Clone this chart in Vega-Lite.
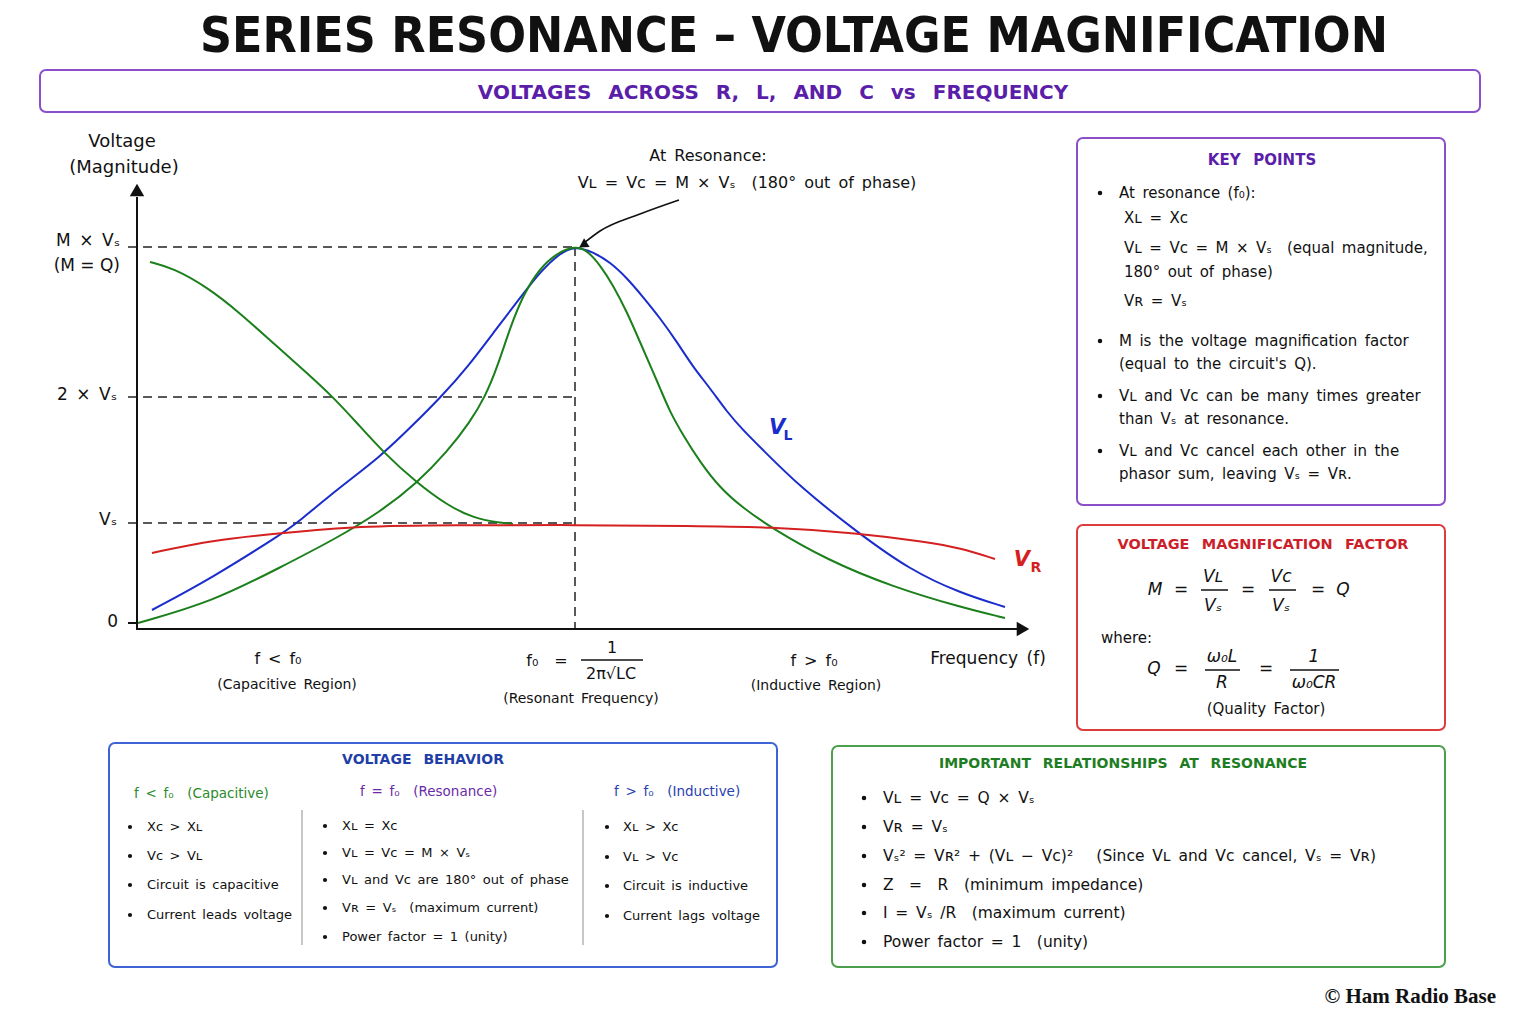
{
"$schema":"https://vega.github.io/schema/vega-lite/v6.json",
"width":1536,"height":1024,"autosize":{"type":"none"},"padding":0,"background":"white",
"config":{"view":{"stroke":null},"text":{"font":"DejaVu Sans","color":"#111111"}},
"resolve":{"scale":{"x":"independent","y":"independent","color":"independent"}},
"layer":[
{
"encoding":{
 "x":{"field":"x","type":"quantitative","scale":{"domain":[-0.31279,3.19406],"nice":false,"zero":false},"axis":null},
 "y":{"field":"y","type":"quantitative","scale":{"domain":[-4.01,6.23],"nice":false,"zero":false},"axis":null}
},
"layer":[
 {"data":{"values":[{"x":-0.0205,"x2":1,"y":3.76,"y2":3.76},{"x":-0.0205,"x2":1,"y":2.26,"y2":2.26},{"x":-0.0205,"x2":1,"y":1.0,"y2":1.0},{"x":1,"x2":1,"y":3.76,"y2":-0.06}]},
  "mark":{"type":"rule","color":"#222222","strokeWidth":1.5,"strokeDash":[9,6]},
  "encoding":{"x2":{"field":"x2"},"y2":{"field":"y2"}}},
 {"data":{"values":[
  {"s":"VL","x":0.0342,"y":0.13},{"s":"VL","x":0.1712,"y":0.45},{"s":"VL","x":0.3333,"y":0.90},{"s":"VL","x":0.3653,"y":1.0},{"s":"VL","x":0.4635,"y":1.36},{"s":"VL","x":0.5548,"y":1.66},{"s":"VL","x":0.6301,"y":1.98},{"s":"VL","x":0.6918,"y":2.25},{"s":"VL","x":0.7534,"y":2.55},{"s":"VL","x":0.8219,"y":2.95},{"s":"VL","x":0.8744,"y":3.25},{"s":"VL","x":0.9201,"y":3.51},{"s":"VL","x":0.9658,"y":3.70},{"s":"VL","x":1.0,"y":3.77},{"s":"VL","x":1.0411,"y":3.71},{"s":"VL","x":1.0799,"y":3.61},{"s":"VL","x":1.1187,"y":3.45},{"s":"VL","x":1.1553,"y":3.26},{"s":"VL","x":1.1941,"y":3.05},{"s":"VL","x":1.2329,"y":2.81},{"s":"VL","x":1.2694,"y":2.56},{"s":"VL","x":1.3082,"y":2.35},{"s":"VL","x":1.3470,"y":2.11},{"s":"VL","x":1.3836,"y":1.93},{"s":"VL","x":1.4224,"y":1.76},{"s":"VL","x":1.5137,"y":1.36},{"s":"VL","x":1.6438,"y":0.91},{"s":"VL","x":1.7648,"y":0.53},{"s":"VL","x":1.8790,"y":0.30},{"s":"VL","x":1.9817,"y":0.16},
  {"s":"VC","x":0.0297,"y":3.61},{"s":"VC","x":0.0822,"y":3.55},{"s":"VC","x":0.1598,"y":3.36},{"s":"VC","x":0.2352,"y":3.10},{"s":"VC","x":0.3105,"y":2.80},{"s":"VC","x":0.3881,"y":2.50},{"s":"VC","x":0.4475,"y":2.26},{"s":"VC","x":0.5023,"y":2.00},{"s":"VC","x":0.5616,"y":1.71},{"s":"VC","x":0.6393,"y":1.40},{"s":"VC","x":0.7078,"y":1.18},{"s":"VC","x":0.7671,"y":1.05},{"s":"VC","x":0.8288,"y":1.00},{"s":"VC","x":0.8584,"y":0.99},
  {"s":"VC2","x":0.0023,"y":0.0},{"s":"VC2","x":0.1712,"y":0.21},{"s":"VC2","x":0.3288,"y":0.56},{"s":"VC2","x":0.4566,"y":0.85},{"s":"VC2","x":0.5548,"y":1.11},{"s":"VC2","x":0.6393,"y":1.40},{"s":"VC2","x":0.7078,"y":1.71},{"s":"VC2","x":0.7603,"y":2.01},{"s":"VC2","x":0.7945,"y":2.26},{"s":"VC2","x":0.8219,"y":2.55},{"s":"VC2","x":0.8516,"y":2.95},{"s":"VC2","x":0.8813,"y":3.28},{"s":"VC2","x":0.9201,"y":3.55},{"s":"VC2","x":0.9589,"y":3.70},{"s":"VC2","x":1.0,"y":3.77},{"s":"VC2","x":1.0274,"y":3.73},{"s":"VC2","x":1.0571,"y":3.58},{"s":"VC2","x":1.0868,"y":3.38},{"s":"VC2","x":1.1187,"y":3.11},{"s":"VC2","x":1.1484,"y":2.81},{"s":"VC2","x":1.1781,"y":2.51},{"s":"VC2","x":1.1941,"y":2.35},{"s":"VC2","x":1.2169,"y":2.11},{"s":"VC2","x":1.2466,"y":1.88},{"s":"VC2","x":1.2854,"y":1.61},{"s":"VC2","x":1.3311,"y":1.35},{"s":"VC2","x":1.3836,"y":1.15},{"s":"VC2","x":1.4452,"y":0.96},{"s":"VC2","x":1.5753,"y":0.63},{"s":"VC2","x":1.7260,"y":0.36},{"s":"VC2","x":1.8790,"y":0.16},{"s":"VC2","x":1.9817,"y":0.05},
  {"s":"VR","x":0.0342,"y":0.70},{"s":"VR","x":0.1735,"y":0.83},{"s":"VR","x":0.3333,"y":0.90},{"s":"VR","x":0.5023,"y":0.97},{"s":"VR","x":0.7237,"y":0.98},{"s":"VR","x":1.0,"y":0.98},{"s":"VR","x":1.2694,"y":0.97},{"s":"VR","x":1.4452,"y":0.96},{"s":"VR","x":1.6438,"y":0.90},{"s":"VR","x":1.8037,"y":0.81},{"s":"VR","x":1.8790,"y":0.75},{"s":"VR","x":1.9589,"y":0.64}
  ]},
  "mark":{"type":"line","interpolate":"basis","strokeWidth":2},
  "encoding":{"color":{"field":"s","type":"nominal","scale":{"domain":["VL","VC","VC2","VR"],"range":["#1a2dcc","#1b7f1b","#1b7f1b","#d42020"]},"legend":null}}},
 {"data":{"values":[{"x":0,"x2":0,"y":-0.07,"y2":4.26},{"x":0,"x2":2.0114,"y":-0.06,"y2":-0.06},{"x":-0.0205,"x2":0,"y":0,"y2":0}]},
  "mark":{"type":"rule","color":"#111111","strokeWidth":2},
  "encoding":{"x2":{"field":"x2"},"y2":{"field":"y2"}}},
 {"data":{"values":[{"x":1.0137,"x2":1.1553,"y":-0.37,"y2":-0.37}]},
  "mark":{"type":"rule","color":"#111111","strokeWidth":1.5},
  "encoding":{"x2":{"field":"x2"},"y2":{"field":"y2"}}},
 {"data":{"values":[{"x":0,"y":4.33}]},"mark":{"type":"point","shape":"triangle-up","filled":true,"size":210,"color":"#111111","opacity":1}},
 {"data":{"values":[{"x":2.0228,"y":-0.06}]},"mark":{"type":"point","shape":"triangle-right","filled":true,"size":210,"color":"#111111","opacity":1}},
 {"data":{"values":[{"x":1.0205,"y":3.80},{"x":1.0571,"y":3.92},{"x":1.1484,"y":4.09},{"x":1.2374,"y":4.23}]},
  "mark":{"type":"line","interpolate":"monotone","color":"#111111","strokeWidth":1.6},"encoding":{}},
 {"data":{"values":[{"x":1.0183,"y":3.78}]},"mark":{"type":"point","shape":"triangle-up","filled":true,"size":110,"angle":238,"color":"#111111","opacity":1}},
 {"data":{"values":[{"x":-0.0342,"y":4.81,"t":"Voltage"},{"x":-0.0297,"y":4.55,"t":"(Magnitude)"}]},
  "mark":{"type":"text","font":"DejaVu Sans","fontSize":18,"align":"center","baseline":"middle","color":"#111111"},
  "encoding":{"text":{"field":"t"}}},
 {"data":{"values":[{"x":-0.0388,"y":3.82,"t":"M\u2002×\u2002Vₛ"},{"x":-0.0388,"y":3.57,"t":"(M = Q)"},{"x":-0.0457,"y":2.28,"t":"2\u2002×\u2002Vₛ"},{"x":-0.0457,"y":1.03,"t":"Vₛ"},{"x":-0.0434,"y":0.01,"t":"0"}]},
  "mark":{"type":"text","font":"DejaVu Sans","fontSize":17,"align":"right","baseline":"middle","color":"#111111"},
  "encoding":{"text":{"field":"t"}}},
 {"data":{"values":[{"x":1.3037,"y":4.67,"t":"At\u2002Resonance:"},{"x":1.3927,"y":4.40,"t":"Vʟ\u2002=\u2002Vᴄ\u2002=\u2002M\u2002×\u2002Vₛ\u2002\u2002(180°\u2002out\u2002of\u2002phase)"},{"x":0.3219,"y":-0.36,"t":"f\u2002<\u2002f₀"},{"x":0.9361,"y":-0.38,"t":"f₀\u2002\u2002="},{"x":1.0845,"y":-0.25,"t":"1"},{"x":1.0822,"y":-0.51,"t":"2π√LC"},{"x":1.5457,"y":-0.38,"t":"f\u2002>\u2002f₀"}]},
  "mark":{"type":"text","font":"DejaVu Sans","fontSize":16,"align":"center","baseline":"middle","color":"#111111"},
  "encoding":{"text":{"field":"t"}}},
 {"data":{"values":[{"x":0.3425,"y":-0.62,"t":"(Capacitive\u2002Region)"},{"x":1.0137,"y":-0.76,"t":"(Resonant\u2002Frequency)"},{"x":1.5502,"y":-0.63,"t":"(Inductive\u2002Region)"}]},
  "mark":{"type":"text","font":"DejaVu Sans","fontSize":14,"align":"center","baseline":"middle","color":"#111111"},
  "encoding":{"text":{"field":"t"}}},
 {"data":{"values":[{"x":1.9429,"y":-0.36,"t":"Frequency\u2002(f)"}]},
  "mark":{"type":"text","font":"DejaVu Sans","fontSize":17,"align":"center","baseline":"middle","color":"#111111"},
  "encoding":{"text":{"field":"t"}}},
 {"data":{"values":[{"x":1.4612,"y":1.95,"t":"V"}]},
  "mark":{"type":"text","font":"DejaVu Sans","fontSize":21,"fontStyle":"italic","fontWeight":"bold","align":"center","baseline":"middle","color":"#1a2dcc"},
  "encoding":{"text":{"field":"t"}}},
 {"data":{"values":[{"x":1.4863,"y":1.87,"t":"L"}]},
  "mark":{"type":"text","font":"DejaVu Sans","fontSize":14,"fontWeight":"bold","align":"center","baseline":"middle","color":"#1a2dcc"},
  "encoding":{"text":{"field":"t"}}},
 {"data":{"values":[{"x":2.0205,"y":0.63,"t":"V"}]},
  "mark":{"type":"text","font":"DejaVu Sans","fontSize":21,"fontStyle":"italic","fontWeight":"bold","align":"center","baseline":"middle","color":"#d42020"},
  "encoding":{"text":{"field":"t"}}},
 {"data":{"values":[{"x":2.0525,"y":0.55,"t":"R"}]},
  "mark":{"type":"text","font":"DejaVu Sans","fontSize":14,"fontWeight":"bold","align":"center","baseline":"middle","color":"#d42020"},
  "encoding":{"text":{"field":"t"}}}
]
},
{
"encoding":{
 "x":{"field":"u","type":"quantitative","scale":{"domain":[-40,1496],"nice":false,"zero":false},"axis":null},
 "y":{"field":"v","type":"quantitative","scale":{"domain":[-70,954],"nice":false,"zero":false,"reverse":true},"axis":null}
},
"layer":[
 {"data":{"values":[{"u":0,"v":0,"u2":1440,"v2":42}]},"mark":{"type":"rect","fill":"#ffffff","fillOpacity":0,"stroke":"#8a4fc9","strokeWidth":2,"cornerRadius":6},"encoding":{"x2":{"field":"u2"},"y2":{"field":"v2"}}},
 {"data":{"values":[{"u":754,"v":-33,"t":"SERIES RESONANCE – VOLTAGE MAGNIFICATION"}]},"mark":{"type":"text","font":"DejaVu Sans Condensed, sans-serif","fontSize":49.5,"fontWeight":"bold","align":"center","baseline":"middle","color":"#111111"},"encoding":{"text":{"field":"t"}}},
 {"data":{"values":[{"u":733,"v":23,"t":"VOLTAGES\u2002 ACROSS\u2002 R,\u2002 L,\u2002 AND\u2002 C\u2002 vs\u2002 FREQUENCY"}]},"mark":{"type":"text","font":"DejaVu Sans","fontSize":20,"fontWeight":"bold","align":"center","baseline":"middle","color":"#5a1ea8"},"encoding":{"text":{"field":"t"}}}
]
},
{
"encoding":{
 "x":{"field":"u","type":"quantitative","scale":{"domain":[-1077,459],"nice":false,"zero":false},"axis":null},
 "y":{"field":"v","type":"quantitative","scale":{"domain":[-138,886],"nice":false,"zero":false,"reverse":true},"axis":null}
},
"layer":[
 {"data":{"values":[{"u":0,"v":0,"u2":368,"v2":367}]},"mark":{"type":"rect","fill":"#ffffff","fillOpacity":0,"stroke":"#8a4fc9","strokeWidth":2,"cornerRadius":6},"encoding":{"x2":{"field":"u2"},"y2":{"field":"v2"}}},
 {"data":{"values":[{"u":185,"v":22,"t":"KEY\u2002 POINTS"}]},"mark":{"type":"text","font":"DejaVu Sans","fontSize":15,"fontWeight":"bold","align":"center","baseline":"middle","color":"#5a1ea8"},"encoding":{"text":{"field":"t"}}},
 {"data":{"values":[{"u":23,"v":55},{"u":23,"v":203},{"u":23,"v":258},{"u":23,"v":313}]},"mark":{"type":"point","shape":"circle","filled":true,"size":20,"color":"#111111","opacity":1}},
 {"data":{"values":[
  {"u":42,"v":55,"t":"At\u2002resonance\u2002(f₀):"},
  {"u":47,"v":80,"t":"Xʟ\u2002=\u2002Xᴄ"},
  {"u":47,"v":110,"t":"Vʟ\u2002=\u2002Vᴄ\u2002=\u2002M\u2002×\u2002Vₛ\u2002\u2002(equal\u2002magnitude,"},
  {"u":47,"v":134,"t":"180°\u2002out\u2002of\u2002phase)"},
  {"u":47,"v":163,"t":"Vʀ\u2002=\u2002Vₛ"},
  {"u":42,"v":203,"t":"M\u2002is\u2002the\u2002voltage\u2002magnification\u2002factor"},
  {"u":42,"v":226,"t":"(equal\u2002to\u2002the\u2002circuit's\u2002Q)."},
  {"u":42,"v":258,"t":"Vʟ\u2002and\u2002Vᴄ\u2002can\u2002be\u2002many\u2002times\u2002greater"},
  {"u":42,"v":281,"t":"than\u2002Vₛ\u2002at\u2002resonance."},
  {"u":42,"v":313,"t":"Vʟ\u2002and\u2002Vᴄ\u2002cancel\u2002each\u2002other\u2002in\u2002the"},
  {"u":42,"v":336,"t":"phasor\u2002sum,\u2002leaving\u2002Vₛ\u2002=\u2002Vʀ."}
 ]},"mark":{"type":"text","font":"DejaVu Sans","fontSize":15,"align":"left","baseline":"middle","color":"#111111"},"encoding":{"text":{"field":"t"}}}
]
},
{
"encoding":{
 "x":{"field":"u","type":"quantitative","scale":{"domain":[-1077,459],"nice":false,"zero":false},"axis":null},
 "y":{"field":"v","type":"quantitative","scale":{"domain":[-525,499],"nice":false,"zero":false,"reverse":true},"axis":null}
},
"layer":[
 {"data":{"values":[{"u":0,"v":0,"u2":368,"v2":205}]},"mark":{"type":"rect","fill":"#ffffff","fillOpacity":0,"stroke":"#dc3c3c","strokeWidth":2,"cornerRadius":6},"encoding":{"x2":{"field":"u2"},"y2":{"field":"v2"}}},
 {"data":{"values":[{"u":186,"v":20,"t":"VOLTAGE\u2002 MAGNIFICATION\u2002 FACTOR"}]},"mark":{"type":"text","font":"DejaVu Sans","fontSize":14.5,"fontWeight":"bold","align":"center","baseline":"middle","color":"#cc1f2b"},"encoding":{"text":{"field":"t"}}},
 {"data":{"values":[
  {"u":78,"v":65,"t":"M"},{"u":104,"v":65,"t":"="},{"u":136,"v":52,"t":"Vʟ"},{"u":136,"v":81,"t":"Vₛ"},{"u":171,"v":65,"t":"="},{"u":204,"v":52,"t":"Vᴄ"},{"u":204,"v":81,"t":"Vₛ"},{"u":241,"v":65,"t":"="},{"u":266,"v":65,"t":"Q"},
  {"u":77,"v":144,"t":"Q"},{"u":104,"v":144,"t":"="},{"u":145,"v":132,"t":"ω₀L"},{"u":145,"v":158,"t":"R"},{"u":189,"v":144,"t":"="},{"u":237,"v":132,"t":"1"},{"u":237,"v":158,"t":"ω₀CR"}
 ]},"mark":{"type":"text","font":"DejaVu Sans","fontSize":17,"fontStyle":"italic","align":"center","baseline":"middle","color":"#111111"},"encoding":{"text":{"field":"t"}}},
 {"data":{"values":[{"u":124,"u2":151,"v":65,"v2":65},{"u":192,"u2":219,"v":65,"v2":65},{"u":128,"u2":163,"v":145,"v2":145},{"u":213,"u2":262,"v":145,"v2":145}]},"mark":{"type":"rule","color":"#111111","strokeWidth":1.5},"encoding":{"x2":{"field":"u2"},"y2":{"field":"v2"}}},
 {"data":{"values":[{"u":24,"v":113,"t":"where:"}]},"mark":{"type":"text","font":"DejaVu Sans","fontSize":15,"align":"left","baseline":"middle","color":"#111111"},"encoding":{"text":{"field":"t"}}},
 {"data":{"values":[{"u":189,"v":184,"t":"(Quality\u2002Factor)"}]},"mark":{"type":"text","font":"DejaVu Sans","fontSize":15,"align":"center","baseline":"middle","color":"#111111"},"encoding":{"text":{"field":"t"}}}
]
},
{
"encoding":{
 "x":{"field":"u","type":"quantitative","scale":{"domain":[-109,1427],"nice":false,"zero":false},"axis":null},
 "y":{"field":"v","type":"quantitative","scale":{"domain":[-743,281],"nice":false,"zero":false,"reverse":true},"axis":null}
},
"layer":[
 {"data":{"values":[{"u":0,"v":0,"u2":668,"v2":224}]},"mark":{"type":"rect","fill":"#ffffff","fillOpacity":0,"stroke":"#3d63d4","strokeWidth":2,"cornerRadius":6},"encoding":{"x2":{"field":"u2"},"y2":{"field":"v2"}}},
 {"data":{"values":[{"u":314,"v":17,"t":"VOLTAGE\u2002 BEHAVIOR"}]},"mark":{"type":"text","font":"DejaVu Sans","fontSize":14,"fontWeight":"bold","align":"center","baseline":"middle","color":"#1f3fa6"},"encoding":{"text":{"field":"t"}}},
 {"data":{"values":[{"u":25,"v":51,"t":"f\u2002<\u2002f₀\u2002\u2002(Capacitive)"}]},
  "mark":{"type":"text","font":"DejaVu Sans","fontSize":13.5,"align":"left","baseline":"middle","color":"#2a8a2a"},"encoding":{"text":{"field":"t"}}},
 {"data":{"values":[{"u":251,"v":49,"t":"f\u2002=\u2002f₀\u2002\u2002(Resonance)"}]},
  "mark":{"type":"text","font":"DejaVu Sans","fontSize":13.5,"align":"left","baseline":"middle","color":"#6a2aa8"},"encoding":{"text":{"field":"t"}}},
 {"data":{"values":[{"u":505,"v":49,"t":"f\u2002>\u2002f₀\u2002\u2002(Inductive)"}]},
  "mark":{"type":"text","font":"DejaVu Sans","fontSize":13.5,"align":"left","baseline":"middle","color":"#2a3fb0"},"encoding":{"text":{"field":"t"}}},
 {"data":{"values":[{"u":193,"u2":193,"v":67,"v2":202},{"u":474,"u2":474,"v":67,"v2":202}]},"mark":{"type":"rule","color":"#b5b5b5","strokeWidth":1.5},"encoding":{"x2":{"field":"u2"},"y2":{"field":"v2"}}},
 {"data":{"values":[{"u":21,"v":84},{"u":21,"v":113},{"u":21,"v":142},{"u":21,"v":172},{"u":216,"v":83},{"u":216,"v":110},{"u":216,"v":137},{"u":216,"v":165},{"u":216,"v":194},{"u":498,"v":84},{"u":498,"v":114},{"u":498,"v":143},{"u":498,"v":173}]},"mark":{"type":"point","shape":"circle","filled":true,"size":18,"color":"#111111","opacity":1}},
 {"data":{"values":[
  {"u":38,"v":84,"t":"Xᴄ\u2002>\u2002Xʟ"},{"u":38,"v":113,"t":"Vᴄ\u2002>\u2002Vʟ"},{"u":38,"v":142,"t":"Circuit\u2002is\u2002capacitive"},{"u":38,"v":172,"t":"Current\u2002leads\u2002voltage"},
  {"u":233,"v":83,"t":"Xʟ\u2002=\u2002Xᴄ"},{"u":233,"v":110,"t":"Vʟ\u2002=\u2002Vᴄ\u2002=\u2002M\u2002×\u2002Vₛ"},{"u":233,"v":137,"t":"Vʟ\u2002and\u2002Vᴄ\u2002are\u2002180°\u2002out\u2002of\u2002phase"},{"u":233,"v":165,"t":"Vʀ\u2002=\u2002Vₛ\u2002\u2002(maximum\u2002current)"},{"u":233,"v":194,"t":"Power\u2002factor\u2002=\u20021\u2002(unity)"},
  {"u":514,"v":84,"t":"Xʟ\u2002>\u2002Xᴄ"},{"u":514,"v":114,"t":"Vʟ\u2002>\u2002Vᴄ"},{"u":514,"v":143,"t":"Circuit\u2002is\u2002inductive"},{"u":514,"v":173,"t":"Current\u2002lags\u2002voltage"}
 ]},"mark":{"type":"text","font":"DejaVu Sans","fontSize":13,"align":"left","baseline":"middle","color":"#111111"},"encoding":{"text":{"field":"t"}}}
]
},
{
"encoding":{
 "x":{"field":"u","type":"quantitative","scale":{"domain":[-832,704],"nice":false,"zero":false},"axis":null},
 "y":{"field":"v","type":"quantitative","scale":{"domain":[-746,278],"nice":false,"zero":false,"reverse":true},"axis":null}
},
"layer":[
 {"data":{"values":[{"u":0,"v":0,"u2":613,"v2":221}]},"mark":{"type":"rect","fill":"#ffffff","fillOpacity":0,"stroke":"#4ca04c","strokeWidth":2,"cornerRadius":6},"encoding":{"x2":{"field":"u2"},"y2":{"field":"v2"}}},
 {"data":{"values":[{"u":291,"v":18,"t":"IMPORTANT\u2002 RELATIONSHIPS\u2002 AT\u2002 RESONANCE"}]},"mark":{"type":"text","font":"DejaVu Sans","fontSize":14,"fontWeight":"bold","align":"center","baseline":"middle","color":"#1e7d22"},"encoding":{"text":{"field":"t"}}},
 {"data":{"values":[{"u":32,"v":52},{"u":32,"v":81},{"u":32,"v":110},{"u":32,"v":139},{"u":32,"v":167},{"u":32,"v":196}]},"mark":{"type":"point","shape":"circle","filled":true,"size":20,"color":"#111111","opacity":1}},
 {"data":{"values":[
  {"u":51,"v":52,"t":"Vʟ\u2002=\u2002Vᴄ\u2002=\u2002Q\u2002×\u2002Vₛ"},
  {"u":51,"v":81,"t":"Vʀ\u2002=\u2002Vₛ"},
  {"u":51,"v":110,"t":"Vₛ²\u2002=\u2002Vʀ²\u2002+\u2002(Vʟ\u2002−\u2002Vᴄ)²\u2002\u2002\u2002(Since\u2002Vʟ\u2002and\u2002Vᴄ\u2002cancel,\u2002Vₛ\u2002=\u2002Vʀ)"},
  {"u":51,"v":139,"t":"Z\u2002\u2002=\u2002\u2002R\u2002\u2002(minimum\u2002impedance)"},
  {"u":51,"v":167,"t":"I\u2002=\u2002Vₛ\u2002/R\u2002\u2002(maximum\u2002current)"},
  {"u":51,"v":196,"t":"Power\u2002factor\u2002=\u20021\u2002\u2002(unity)"}
 ]},"mark":{"type":"text","font":"DejaVu Sans","fontSize":15.5,"align":"left","baseline":"middle","color":"#111111"},"encoding":{"text":{"field":"t"}}},
 {"data":{"values":[{"u":664,"v":251,"t":"© Ham Radio Base"}]},"mark":{"type":"text","font":"Liberation Serif","fontSize":21,"fontWeight":"bold","align":"right","baseline":"middle","color":"#111111"},"encoding":{"text":{"field":"t"}}}
]
}
]
}
